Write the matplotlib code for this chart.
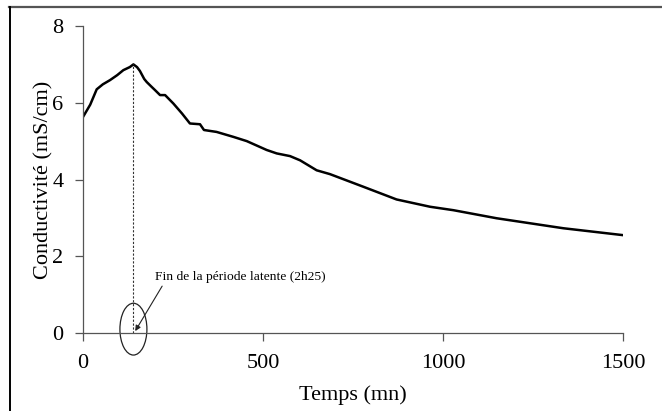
import matplotlib.pyplot as plt
from matplotlib.patches import Ellipse
from matplotlib.lines import Line2D

plt.rcParams['font.family'] = ['Liberation Serif', 'DejaVu Serif']

# conductivité relevée (mS/cm) en fonction du temps (mn)
temps = [0, 20, 38, 55, 75, 95, 112, 130, 140, 150, 158, 170, 177, 190, 200,
         214, 228, 251, 275, 297, 325, 336, 371, 418, 455, 510, 538, 575, 603,
         649, 686, 779, 871, 964, 1029, 1149, 1334, 1500]
conductivite = [5.63, 5.95, 6.35, 6.48, 6.59, 6.72, 6.85, 6.93, 7.0, 6.93, 6.83,
                6.62, 6.54, 6.42, 6.33, 6.2, 6.2, 5.98, 5.72, 5.46, 5.44, 5.29,
                5.24, 5.11, 5.0, 4.77, 4.68, 4.61, 4.5, 4.24, 4.14, 3.81, 3.48,
                3.29, 3.2, 2.99, 2.73, 2.55]
t_latence = 140  # 2h25
pic = 7.0

fig = plt.figure(figsize=(6.62, 4.11), dpi=100)
ax = fig.add_axes([0.1254, 0.1898, 0.8157, 0.7469])

ax.plot(temps, conductivite, color='black', lw=1.8)
ax.plot([t_latence, t_latence], [0, pic], color='#333333', lw=0.8,
        linestyle=(0, (2, 1.5)))

ax.add_patch(Ellipse((t_latence, 0.1), 75, 1.35, fill=False,
                     edgecolor='#222222', lw=0.9, clip_on=False))
ax.annotate('Fin de la période latente (2h25)', xy=(t_latence + 5, 0.05),
            xytext=(200, 1.45), fontsize=9.7, va='center', ha='left',
            arrowprops=dict(arrowstyle='-|>', color='#222222', lw=0.8,
                            mutation_scale=8, shrinkA=0, shrinkB=0,
                            relpos=(0.06, 0.2)))

ax.set_xlim(0, 1500)
ax.set_ylim(0, 8)
ax.set_xticks([0, 500, 1000, 1500])
ax.set_yticks([0, 2, 4, 6, 8])
for s in ['top', 'right']:
    ax.spines[s].set_visible(False)
for s in ['left', 'bottom']:
    ax.spines[s].set_color('#555555')
    ax.spines[s].set_linewidth(0.9)
ax.tick_params(direction='out', length=6, width=0.9, color='#555555',
               labelsize=16)
ax.tick_params(axis='x', pad=9)
ax.tick_params(axis='y', pad=8)
ax.set_xlabel('Temps (mn)', fontsize=16, labelpad=9)
ax.set_ylabel('Conductivité (mS/cm)', fontsize=16, labelpad=-1)

# cadre de la figure
fig.add_artist(Line2D([9 / 662, 1], [1 - 7.5 / 411] * 2, color='#555555', lw=1.6))
fig.add_artist(Line2D([9.5 / 662] * 2, [0, 1 - 7 / 411], color='black', lw=1.4))

fig.savefig('out.png', dpi=100)
